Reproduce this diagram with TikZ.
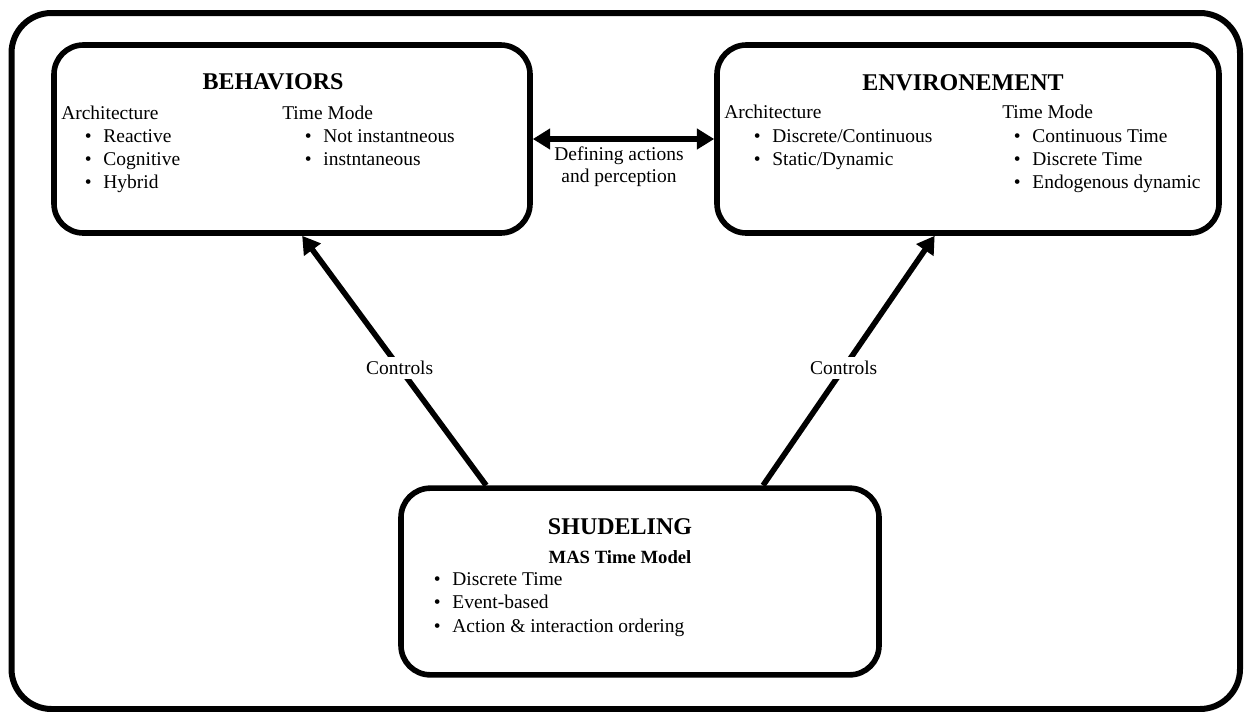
\documentclass[tikz,border=0pt]{standalone}
\usepackage{fontspec}
\setmainfont{Liberation Serif}
\usetikzlibrary{arrows.meta}

\tikzset{
  box/.style={draw, line width=4.2pt, rounded corners=22pt, inner sep=0pt},
  ttl/.style={font=\fontsize{18}{20}\selectfont\bfseries, inner sep=0pt},
  sub/.style={font=\fontsize{14}{16}\selectfont\bfseries, inner sep=0pt},
  txt/.style={font=\fontsize{14.6}{17}\selectfont, anchor=base west, inner sep=0pt},
  lbl/.style={font=\fontsize{14.6}{16.5}\selectfont, fill=white, inner sep=3pt},
  ctrl/.style={line width=4.2pt, -{Triangle[length=13pt,width=15pt]}},
  both/.style={line width=4.2pt, {Triangle[length=13pt,width=15pt]}-{Triangle[length=13pt,width=15pt]}}
}
\newcommand{\itm}[1]{\makebox[14pt][l]{\textbullet}#1}

\begin{document}
\begin{tikzpicture}[x=0.75pt,y=-0.75pt]
        \useasboundingbox (0,0) rectangle (1246,711);

        % outer frame
        \draw[line width=4.5pt, rounded corners=30pt] (11.5,13) rectangle (1240,709);

        % the three boxes
        \node[box, minimum width=357pt, minimum height=141pt] (beh) at (292,139) {};
        \node[box, minimum width=376.5pt, minimum height=141pt] (env) at (968,139) {};
        \node[box, minimum width=358.5pt, minimum height=140pt] (sched) at (640,581.5) {};

        % BEHAVIORS
        \node[ttl] (behT) at (273,82) {BEHAVIORS};
        \node[txt] (behA) at (61,119) {Architecture};
        \foreach \t [count=\i] in {Reactive, Cognitive, Hybrid}
          \node[txt] (behA\i) at (84.5,119+23*\i) {\itm{\t}};
        \node[txt] (behM) at (282,119) {Time Mode};
        \foreach \t [count=\i] in {Not instantneous, instntaneous}
          \node[txt] (behM\i) at (304.5,119+23*\i) {\itm{\t}};

        % ENVIRONEMENT
        \node[ttl] (envT) at (963,83) {ENVIRONEMENT};
        \node[txt] (envA) at (724,118) {Architecture};
        \foreach \t [count=\i] in {Discrete/Continuous, Static/Dynamic}
          \node[txt] (envA\i) at (753.5,119+23*\i) {\itm{\t}};
        \node[txt] (envM) at (1002,118) {Time Mode};
        \foreach \t [count=\i] in {Continuous Time, Discrete Time, Endogenous dynamic}
          \node[txt] (envM\i) at (1013.5,119+23*\i) {\itm{\t}};

        % SHUDELING
        \node[ttl] (schT) at (620,527) {SHUDELING};
        \node[sub] (schS) at (620,557) {MAS Time Model};
        \foreach \t [count=\i] in {Discrete Time, Event-based, Action \& interaction ordering}
          \node[txt] (schL\i) at (433.5,561.5+23.5*\i) {\itm{\t}};

        % links
        \draw[both] (beh.east) -- (env.west);
        \node[align=center, font=\fontsize{14.6}{16.5}\selectfont, inner sep=0pt] (def) at (619,167) {Defining actions\\and perception};
        \draw[ctrl] (sched.148) -- node[lbl, pos=0.47] (c1) {Controls} (beh.-84);
        \draw[ctrl] (sched.38.6) -- node[lbl, pos=0.47] (c2) {Controls} (env.-109.3);
\end{tikzpicture}
\end{document}
